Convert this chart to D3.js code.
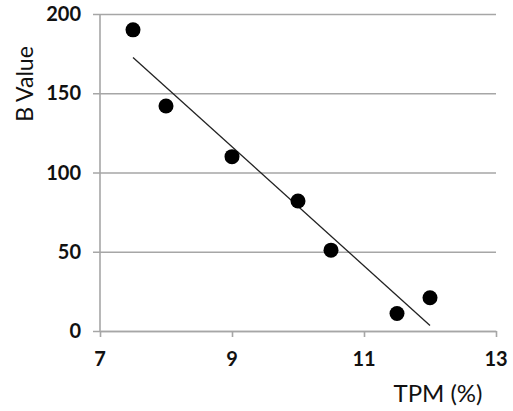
<!DOCTYPE html>
<html>
<head>
<meta charset="utf-8">
<script src="https://cdn.jsdelivr.net/npm/d3@7"></script>
<style>
  body { margin: 0; background: #fff; }
  svg { display: block; }
</style>
</head>
<body>
<div id="chart"></div>
<script>
// data
const tpm = [7.5, 8, 9, 10, 10.5, 11.5, 12];
const bValue = [190, 142, 110, 82, 51, 11, 21];
const xTicks = [7, 9, 11, 13];
const yTicks = [0, 50, 100, 150, 200];

const width = 513, height = 411;
const margin = { top: 14, right: 17, bottom: 80, left: 100 };

const svg = d3.select("#chart")
  .append("svg")
  .attr("width", width)
  .attr("height", height);

const x = d3.scaleLinear()
  .domain([7, 13])
  .range([margin.left, width - margin.right]);

const y = d3.scaleLinear()
  .domain([0, 200])
  .range([height - margin.bottom, margin.top]);

const gridColor = "#a6a6a6";

// horizontal gridlines + y ticks
svg.append("g")
  .attr("transform", `translate(${margin.left},0)`)
  .call(d3.axisLeft(y).tickValues(yTicks).tickSize(-(x.range()[1] - margin.left)).tickFormat(""))
  .call(g => g.select(".domain").remove())
  .call(g => g.selectAll("line").attr("stroke", gridColor).attr("stroke-width", 1.6).attr("x1", -7));

// y tick labels
svg.append("g")
  .selectAll("text")
  .data(yTicks)
  .join("text")
  .attr("x", margin.left - 19)
  .attr("y", d => y(d))
  .attr("dy", "0.36em")
  .attr("text-anchor", "end")
  .attr("font-family", "Lato, sans-serif")
  .attr("font-weight", "bold")
  .attr("font-size", "20px")
  .attr("fill", "#111")
  .text(d => d);

// y axis line
svg.append("line")
  .attr("x1", margin.left).attr("x2", margin.left)
  .attr("y1", y(0)).attr("y2", y(200))
  .attr("stroke", gridColor)
  .attr("stroke-width", 1.6);

// x axis
svg.append("g")
  .attr("transform", `translate(0,${y(0)})`)
  .call(d3.axisBottom(x).tickValues(xTicks).tickSize(6).tickSizeOuter(0).tickFormat(""))
  .call(g => g.select(".domain").attr("stroke", gridColor).attr("stroke-width", 1.6))
  .call(g => g.selectAll("line").attr("stroke", gridColor).attr("stroke-width", 1.6));

svg.append("g")
  .selectAll("text")
  .data(xTicks)
  .join("text")
  .attr("x", d => x(d))
  .attr("y", y(0) + 35)
  .attr("text-anchor", "middle")
  .attr("font-family", "Lato, sans-serif")
  .attr("font-weight", "bold")
  .attr("font-size", "20px")
  .attr("fill", "#111")
  .text(d => d);

// linear trendline from least squares fit
const mx = d3.mean(tpm), my = d3.mean(bValue);
const sxy = d3.sum(tpm, (d, i) => (d - mx) * (bValue[i] - my));
const sxx = d3.sum(tpm, d => (d - mx) * (d - mx));
const slope = sxy / sxx;
const intercept = my - slope * mx;
const xExt = d3.extent(tpm);

svg.append("line")
  .attr("x1", x(xExt[0]))
  .attr("y1", y(intercept + slope * xExt[0]))
  .attr("x2", x(xExt[1]))
  .attr("y2", y(intercept + slope * xExt[1]))
  .attr("stroke", "#222")
  .attr("stroke-width", 1.3);

// points
svg.append("g")
  .selectAll("circle")
  .data(tpm)
  .join("circle")
  .attr("cx", d => x(d))
  .attr("cy", (d, i) => y(bValue[i]))
  .attr("r", 7.5)
  .attr("fill", "#000");

// axis titles
svg.append("text")
  .attr("transform", `translate(33,84) rotate(-90)`)
  .attr("text-anchor", "middle")
  .attr("font-family", "Lato, sans-serif")
  .attr("font-size", "23px")
  .attr("fill", "#111")
  .text("B Value");

svg.append("text")
  .attr("x", 438)
  .attr("y", 402)
  .attr("text-anchor", "middle")
  .attr("font-family", "Lato, sans-serif")
  .attr("font-size", "24px")
  .attr("fill", "#111")
  .text("TPM (%)");
</script>
</body>
</html>
